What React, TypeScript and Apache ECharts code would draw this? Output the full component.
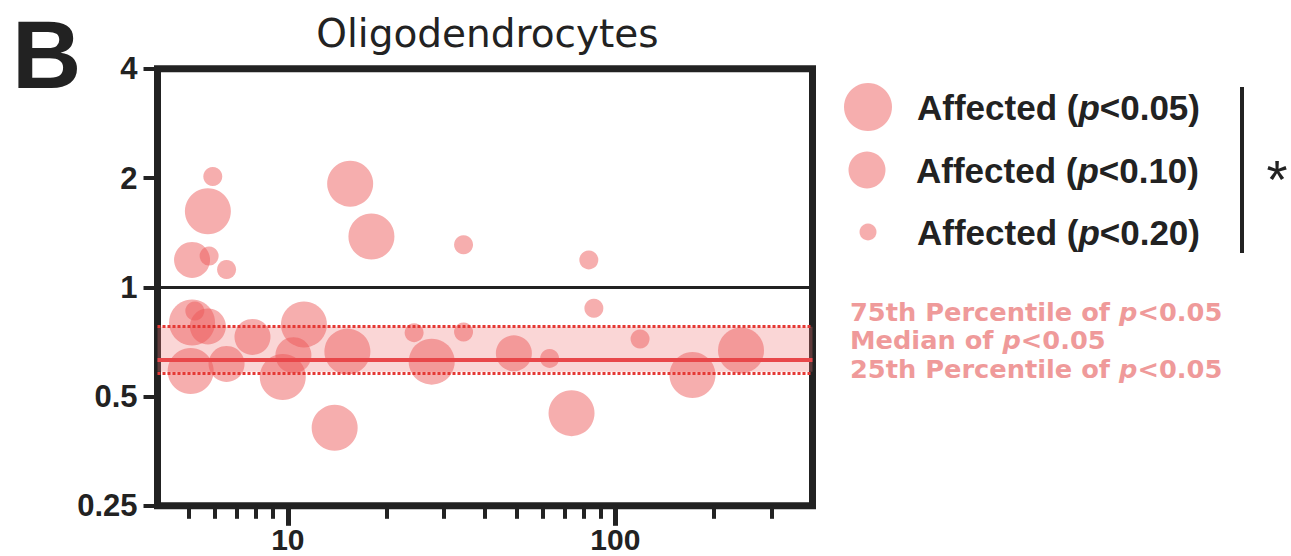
import React, { useEffect, useRef } from 'react';
import * as echarts from 'echarts';

// ---- data ----
const SERIES_NAMES = ['Affected (p<0.05)', 'Affected (p<0.10)', 'Affected (p<0.20)'];

// [x, fold change]
const affected005: [number, number][] = [
  [5.7, 1.62], [15.5, 1.93], [18, 1.38], [73.5, 0.45], [172, 0.573], [242, 0.67],
  [27.5, 0.624], [15.2, 0.665], [13.9, 0.41], [11.2, 0.79], [9.65, 0.566],
  [5.1, 0.8], [5.05, 0.588],
];
const affected010: [number, number][] = [
  [5.1, 1.19], [49, 0.658], [10.4, 0.65], [6.5, 0.615], [5.7, 0.78], [7.8, 0.73],
];
const affected020: [number, number][] = [
  [5.9, 2.02], [5.75, 1.22], [6.5, 1.12], [34.4, 1.31], [83, 1.19], [86, 0.875],
  [119, 0.72], [24.3, 0.75], [34.4, 0.753], [63, 0.637], [5.2, 0.86],
];
const SYMBOL_SIZES = [46, 36, 19];

const X_MIN = 4;
const X_MAX = 400;
const X_MAJOR = [10, 100];
const X_MINOR = [5, 6, 7, 8, 9, 20, 30, 40, 50, 60, 70, 80, 90, 200, 300];
const Y_MIN = 0.25;
const Y_MAX = 4;

const REF_LINE = 1;
const P75 = 0.779;
const MEDIAN = 0.632;
const P25 = 0.585;

const TITLE = 'Oligodendrocytes';
const PANEL = 'B';
const PERCENTILE_LABELS = ['75th Percentile of ', 'Median of ', '25th Percentile of '];
const P_THRESHOLD = '<0.05';

const FONT = 'Liberation Sans, Arial, Helvetica, sans-serif';
const WIDE = 'DejaVu Sans, Verdana, sans-serif';
const INK = '#222';
const DOT = 'rgba(236, 85, 85, 0.6)';
const PINK_TEXT = '#ef9a9a';

export default function App() {
  const ref = useRef<HTMLDivElement>(null);

  useEffect(() => {
    document.body.style.margin = '0';
    if (!ref.current) return;
    const chart = echarts.init(ref.current, undefined, { renderer: 'svg' });

    const data = [affected005, affected010, affected020];
    const scatterSeries = SERIES_NAMES.map((name, i) => ({
      name,
      type: 'scatter',
      data: data[i],
      symbol: 'circle',
      symbolSize: SYMBOL_SIZES[i],
      itemStyle: { color: DOT },
      z: 3,
      silent: true,
    }));

    const legendRich = {
      a: { fontSize: 35, fontWeight: 'bold', fontFamily: FONT, color: INK, lineHeight: 36 },
      i: { fontSize: 35, fontWeight: 'bold', fontStyle: 'italic', fontFamily: FONT, color: INK, lineHeight: 36 },
    };
    const legendTops = [83, 151.5, 214.5];
    const legendLefts = [844, 848.5, 859.5];
    const legends = SERIES_NAMES.map((name, i) => ({
      data: [name],
      left: legendLefts[i],
      top: legendTops[i],
      padding: 0,
      icon: 'circle',
      itemWidth: 88,
      itemHeight: [48, 37, 17][i],
      selectedMode: false,
      formatter: (n: string) => {
        const m = n.match(/^(.*\()p(.*)$/);
        return m ? `{a|${m[1]}}{i|p}{a|${m[2]}}` : n;
      },
      textStyle: { rich: legendRich, fontSize: 35, fontWeight: 'bold', fontFamily: FONT, color: INK },
    }));

    const pctRich = {
      a: { fontSize: 24, fontWeight: 'bold', fontFamily: WIDE, fill: PINK_TEXT, lineHeight: 24 },
      i: { fontSize: 24, fontWeight: 'bold', fontStyle: 'italic', fontFamily: WIDE, fill: PINK_TEXT, lineHeight: 24 },
    };
    const pctY = [312.5, 341, 369.5];

    const option: any = {
      animation: false,
      grid: {
        left: 157.5,
        right: 478.5,
        top: 68.8,
        bottom: 50.2,
        show: true,
        borderColor: INK,
        borderWidth: 7,
        backgroundColor: 'transparent',
      },
      legend: legends,
      xAxis: [
        {
          type: 'log',
          logBase: 10,
          min: X_MIN,
          max: X_MAX,
          axisLine: { show: false },
          axisTick: { show: true, customValues: X_MAJOR, length: 20, lineStyle: { color: INK, width: 5 } },
          axisLabel: {
            customValues: X_MAJOR,
            fontSize: 30,
            fontWeight: 'bold',
            fontFamily: FONT,
            color: INK,
            margin: 22,
            lineHeight: 24,
            formatter: (v: number) => String(v),
          },
          splitLine: { show: false },
          minorTick: { show: false },
        },
        {
          type: 'log',
          logBase: 10,
          min: X_MIN,
          max: X_MAX,
          position: 'bottom',
          axisLine: { show: false },
          axisTick: { show: true, customValues: X_MINOR, length: 13, lineStyle: { color: INK, width: 4 } },
          axisLabel: { show: false },
          splitLine: { show: false },
        },
      ],
      yAxis: {
        type: 'log',
        logBase: 2,
        min: Y_MIN,
        max: Y_MAX,
        interval: 1,
        axisLine: { show: false },
        axisTick: { show: true, length: 14, lineStyle: { color: INK, width: 4 } },
        axisLabel: {
          fontSize: 31,
          fontWeight: 'bold',
          fontFamily: FONT,
          color: INK,
          margin: 20,
          formatter: (v: number) => String(v),
        },
        splitLine: { show: false },
      },
      series: [
        {
          name: 'band',
          type: 'scatter',
          data: [],
          z: 1,
          silent: true,
          markArea: {
            silent: true,
            itemStyle: { color: 'rgba(240, 120, 120, 0.3)' },
            data: [[{ yAxis: P25 }, { yAxis: P75 }]],
          },
        },
        ...scatterSeries,
        {
          name: 'lines',
          type: 'scatter',
          data: [],
          z: 4,
          silent: true,
          markLine: {
            silent: true,
            symbol: ['none', 'none'],
            label: { show: false },
            emphasis: { disabled: true },
            data: [
              { yAxis: REF_LINE, lineStyle: { color: INK, width: 3, type: 'solid' } },
              { yAxis: MEDIAN, lineStyle: { color: '#e8474a', width: 4, type: 'solid' } },
              { yAxis: P75, lineStyle: { color: '#e53935', width: 3, type: [3, 2] } },
              { yAxis: P25, lineStyle: { color: '#e53935', width: 3, type: [3, 2] } },
            ],
          },
        },
      ],
      graphic: [
        {
          type: 'text',
          x: 12,
          y: 54,
          style: {
            text: PANEL,
            fontSize: 96,
            lineHeight: 76,
            fontWeight: 'bold',
            fontFamily: FONT,
            fill: INK,
            align: 'left',
            verticalAlign: 'middle',
          },
        },
        {
          type: 'text',
          x: 487.5,
          y: 33,
          style: {
            text: TITLE,
            fontSize: 39,
            fontWeight: 'normal',
            fontFamily: WIDE,
            fill: INK,
            align: 'center',
            verticalAlign: 'middle',
          },
        },
        {
          type: 'line',
          shape: { x1: 1242, y1: 87, x2: 1242, y2: 253 },
          style: { stroke: INK, lineWidth: 4 },
        },
        {
          type: 'text',
          x: 1277,
          y: 179,
          style: {
            text: '*',
            fontSize: 54,
            fontFamily: FONT,
            fill: INK,
            align: 'center',
            verticalAlign: 'middle',
          },
        },
        ...PERCENTILE_LABELS.map((lab, i) => ({
          type: 'text',
          x: 850,
          y: pctY[i],
          scaleX: 1.07,
          style: {
            text: `{a|${lab}}{i|p}{a|${P_THRESHOLD}}`,
            rich: pctRich,
            fontSize: 24,
            lineHeight: 24,
            fontWeight: 'bold',
            fontFamily: WIDE,
            fill: PINK_TEXT,
            align: 'left',
            verticalAlign: 'middle',
          },
        })),
      ],
    };

    chart.setOption(option);
    return () => chart.dispose();
  }, []);

  return <div ref={ref} style={{ width: 1291, height: 556 }} />;
}
